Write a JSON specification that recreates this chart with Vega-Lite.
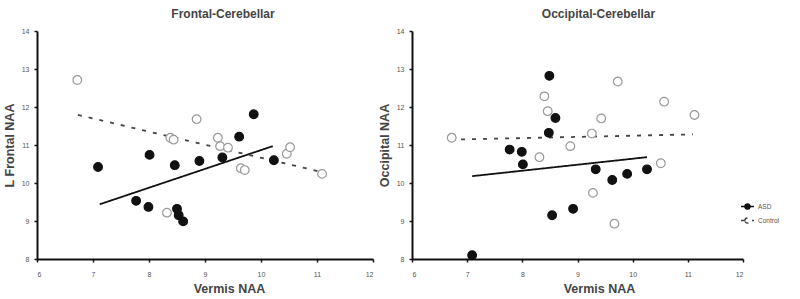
{
  "$schema": "https://vega.github.io/schema/vega-lite/v6.json",
  "padding": {"left": 3, "top": 8, "right": 0, "bottom": 0},
  "background": "white",
  "spacing": 4,
  "datasets": {
    "frontal_points": [
      {"group": "ASD", "vermis": 7.09, "naa": 10.42},
      {"group": "ASD", "vermis": 7.77, "naa": 9.53},
      {"group": "ASD", "vermis": 7.99, "naa": 9.37},
      {"group": "ASD", "vermis": 8.01, "naa": 10.74},
      {"group": "ASD", "vermis": 8.46, "naa": 10.47},
      {"group": "ASD", "vermis": 8.50, "naa": 9.32},
      {"group": "ASD", "vermis": 8.53, "naa": 9.15},
      {"group": "ASD", "vermis": 8.61, "naa": 8.99},
      {"group": "ASD", "vermis": 8.90, "naa": 10.58},
      {"group": "ASD", "vermis": 9.31, "naa": 10.67},
      {"group": "ASD", "vermis": 9.61, "naa": 11.22},
      {"group": "ASD", "vermis": 9.87, "naa": 11.81},
      {"group": "ASD", "vermis": 10.23, "naa": 10.60},
      {"group": "Control", "vermis": 6.72, "naa": 12.71},
      {"group": "Control", "vermis": 8.32, "naa": 9.22},
      {"group": "Control", "vermis": 8.38, "naa": 11.19},
      {"group": "Control", "vermis": 8.44, "naa": 11.14},
      {"group": "Control", "vermis": 8.85, "naa": 11.68},
      {"group": "Control", "vermis": 9.23, "naa": 11.19},
      {"group": "Control", "vermis": 9.27, "naa": 10.97},
      {"group": "Control", "vermis": 9.41, "naa": 10.93},
      {"group": "Control", "vermis": 9.64, "naa": 10.39},
      {"group": "Control", "vermis": 9.71, "naa": 10.34},
      {"group": "Control", "vermis": 10.46, "naa": 10.77},
      {"group": "Control", "vermis": 10.52, "naa": 10.94},
      {"group": "Control", "vermis": 11.09, "naa": 10.24}
    ],
    "frontal_fit": [
      {"group": "ASD", "vermis": 7.12, "naa": 9.44},
      {"group": "ASD", "vermis": 10.21, "naa": 10.97},
      {"group": "Control", "vermis": 6.73, "naa": 11.79},
      {"group": "Control", "vermis": 11.14, "naa": 10.27}
    ],
    "occipital_points": [
      {"group": "ASD", "vermis": 7.09, "naa": 8.10},
      {"group": "ASD", "vermis": 7.77, "naa": 10.88},
      {"group": "ASD", "vermis": 7.99, "naa": 10.82},
      {"group": "ASD", "vermis": 8.01, "naa": 10.49},
      {"group": "ASD", "vermis": 8.49, "naa": 12.82},
      {"group": "ASD", "vermis": 8.48, "naa": 11.32},
      {"group": "ASD", "vermis": 8.60, "naa": 11.71},
      {"group": "ASD", "vermis": 8.54, "naa": 9.15},
      {"group": "ASD", "vermis": 8.92, "naa": 9.32},
      {"group": "ASD", "vermis": 9.33, "naa": 10.36},
      {"group": "ASD", "vermis": 9.63, "naa": 10.08},
      {"group": "ASD", "vermis": 9.90, "naa": 10.24},
      {"group": "ASD", "vermis": 10.26, "naa": 10.36},
      {"group": "Control", "vermis": 6.72, "naa": 11.19},
      {"group": "Control", "vermis": 8.31, "naa": 10.68},
      {"group": "Control", "vermis": 8.40, "naa": 12.28},
      {"group": "Control", "vermis": 8.46, "naa": 11.89},
      {"group": "Control", "vermis": 8.87, "naa": 10.97},
      {"group": "Control", "vermis": 9.26, "naa": 11.30},
      {"group": "Control", "vermis": 9.28, "naa": 9.74},
      {"group": "Control", "vermis": 9.43, "naa": 11.70},
      {"group": "Control", "vermis": 9.73, "naa": 12.67},
      {"group": "Control", "vermis": 9.67, "naa": 8.93},
      {"group": "Control", "vermis": 10.51, "naa": 10.52},
      {"group": "Control", "vermis": 10.57, "naa": 12.14},
      {"group": "Control", "vermis": 11.12, "naa": 11.79}
    ],
    "occipital_fit": [
      {"group": "ASD", "vermis": 7.09, "naa": 10.18},
      {"group": "ASD", "vermis": 10.26, "naa": 10.68},
      {"group": "Control", "vermis": 6.69, "naa": 11.14},
      {"group": "Control", "vermis": 11.09, "naa": 11.28}
    ]
  },
  "hconcat": [
    {
      "width": 336,
      "height": 228,
      "title": {"text": "Frontal-Cerebellar", "dx": 18},
      "encoding": {
        "x": {"field": "vermis", "type": "quantitative", "scale": {"domain": [6, 12], "nice": false}, "axis": {"title": "Vermis NAA", "values": [6, 7, 8, 9, 10, 11, 12], "format": "d", "labelOverlap": false, "titleX": 192}},
        "y": {"field": "naa", "type": "quantitative", "scale": {"domain": [8, 14], "nice": false}, "axis": {"title": "L Frontal NAA", "values": [8, 9, 10, 11, 12, 13, 14], "tickCount": 7, "format": "d", "labelOverlap": false}}
      },
      "layer": [
        {
          "data": {"name": "frontal_fit"},
          "mark": {"type": "line", "strokeWidth": 1.8},
          "encoding": {
            "detail": {"field": "group"},
            "stroke": {"field": "group", "type": "nominal", "scale": {"domain": ["ASD", "Control"], "range": ["#111111", "#444444"]}, "legend": null},
            "strokeDash": {"field": "group", "type": "nominal", "scale": {"domain": ["ASD", "Control"], "range": [[1, 0], [4, 7]]}, "legend": null}
          }
        },
        {
          "data": {"name": "frontal_points"},
          "mark": {"type": "point", "shape": "circle", "size": 75, "strokeWidth": 1.2, "opacity": 1},
          "encoding": {
            "fill": {"condition": {"test": "datum.group === 'ASD'", "value": "#111111"}, "value": "white"},
            "stroke": {"condition": {"test": "datum.group === 'ASD'", "value": "#111111"}, "value": "#999999"}
          }
        }
      ]
    },
    {
      "width": 331,
      "height": 228,
      "title": {"text": "Occipital-Cerebellar", "dx": 21},
      "encoding": {
        "x": {"field": "vermis", "type": "quantitative", "scale": {"domain": [6, 12], "nice": false}, "axis": {"title": "Vermis NAA", "values": [6, 7, 8, 9, 10, 11, 12], "format": "d", "labelOverlap": false, "titleX": 187}},
        "y": {"field": "naa", "type": "quantitative", "scale": {"domain": [8, 14], "nice": false}, "axis": {"title": "Occipital NAA", "values": [8, 9, 10, 11, 12, 13, 14], "tickCount": 7, "format": "d", "labelOverlap": false}}
      },
      "layer": [
        {
          "data": {"name": "occipital_fit"},
          "mark": {"type": "line", "strokeWidth": 1.8},
          "encoding": {
            "detail": {"field": "group"},
            "stroke": {"field": "group", "type": "nominal", "scale": {"domain": ["ASD", "Control"], "range": ["#111111", "#444444"]},
              "legend": {"title": null, "orient": "none", "legendX": 328, "legendY": 168, "symbolType": "M-1,0L1,0M-0.4,0A0.4,0.4,0,1,1,0.4,0A0.4,0.4,0,1,1,-0.4,0", "symbolSize": 169, "symbolStrokeWidth": 1.5, "labelFontSize": 6.5, "labelColor": "#555555", "rowPadding": 0, "labelOffset": 3,
                "encode": {"symbols": {"update": {"fill": {"signal": "datum.value === 'ASD' ? '#111111' : 'white'"}, "stroke": {"signal": "datum.value === 'ASD' ? '#111111' : '#777777'"}, "strokeDash": {"signal": "datum.value === 'ASD' ? [1, 0] : [2, 1.5]"}}}}}},
            "strokeDash": {"field": "group", "type": "nominal", "scale": {"domain": ["ASD", "Control"], "range": [[1, 0], [4, 7]]},
              "legend": {"title": null, "orient": "none", "legendX": 328, "legendY": 168, "symbolType": "M-1,0L1,0M-0.4,0A0.4,0.4,0,1,1,0.4,0A0.4,0.4,0,1,1,-0.4,0", "symbolSize": 169, "symbolStrokeWidth": 1.5, "labelFontSize": 6.5, "labelColor": "#555555", "rowPadding": 0, "labelOffset": 3,
                "encode": {"symbols": {"update": {"fill": {"signal": "datum.value === 'ASD' ? '#111111' : 'white'"}, "stroke": {"signal": "datum.value === 'ASD' ? '#111111' : '#777777'"}, "strokeDash": {"signal": "datum.value === 'ASD' ? [1, 0] : [2, 1.5]"}}}}}}
          }
        },
        {
          "data": {"name": "occipital_points"},
          "mark": {"type": "point", "shape": "circle", "size": 75, "strokeWidth": 1.2, "opacity": 1},
          "encoding": {
            "fill": {"condition": {"test": "datum.group === 'ASD'", "value": "#111111"}, "value": "white"},
            "stroke": {"condition": {"test": "datum.group === 'ASD'", "value": "#111111"}, "value": "#999999"}
          }
        }
      ]
    }
  ],
  "resolve": {"scale": {"stroke": "independent", "strokeDash": "independent"}, "legend": {"stroke": "independent", "strokeDash": "independent"}},
  "config": {
    "view": {"stroke": null},
    "font": "Liberation Sans",
    "title": {"fontSize": 12, "fontWeight": "bold", "color": "#444444", "offset": 6, "anchor": "middle"},
    "axis": {"grid": false, "domainColor": "#111111", "domainWidth": 2, "tickColor": "#111111", "tickSize": 3, "tickWidth": 1.5, "labelFontSize": 7, "labelColor": "#555555", "labelPadding": 5, "titleFontSize": 12.5, "titleFontWeight": "bold", "titleColor": "#444444"},
    "axisX": {"labelPadding": 8, "titlePadding": 5},
    "axisY": {"titlePadding": 5}
  }
}
